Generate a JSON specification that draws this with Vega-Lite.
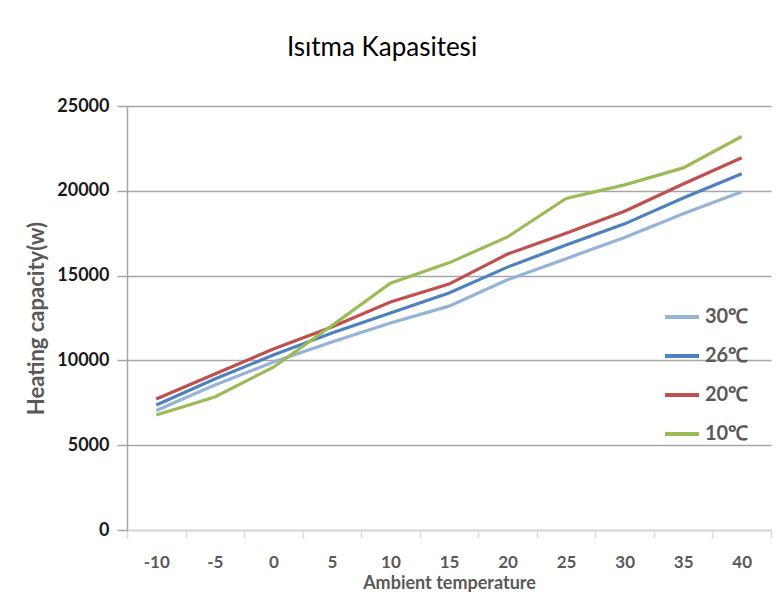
{
  "$schema": "https://vega.github.io/schema/vega-lite/v6.json",
  "width": 644,
  "height": 424,
  "autosize": "none",
  "padding": {"left": 127, "top": 106, "right": 13, "bottom": 71},
  "background": "white",
  "title": {"text": "Isıtma Kapasitesi", "font": "Lato", "fontSize": 26, "fontWeight": "normal", "color": "#000000", "anchor": "middle", "dx": -67, "offset": 36},
  "data": {"values": [
    {"t": -10, "s": "30℃", "v": 7050},
    {"t": -5, "s": "30℃", "v": 8550},
    {"t": 0, "s": "30℃", "v": 9900},
    {"t": 5, "s": "30℃", "v": 11080},
    {"t": 10, "s": "30℃", "v": 12200},
    {"t": 15, "s": "30℃", "v": 13200},
    {"t": 20, "s": "30℃", "v": 14750},
    {"t": 25, "s": "30℃", "v": 16000},
    {"t": 30, "s": "30℃", "v": 17250},
    {"t": 35, "s": "30℃", "v": 18650},
    {"t": 40, "s": "30℃", "v": 19950},
    {"t": -10, "s": "26℃", "v": 7370},
    {"t": -5, "s": "26℃", "v": 8900},
    {"t": 0, "s": "26℃", "v": 10320},
    {"t": 5, "s": "26℃", "v": 11620},
    {"t": 10, "s": "26℃", "v": 12800},
    {"t": 15, "s": "26℃", "v": 13970},
    {"t": 20, "s": "26℃", "v": 15500},
    {"t": 25, "s": "26℃", "v": 16800},
    {"t": 30, "s": "26℃", "v": 18050},
    {"t": 35, "s": "26℃", "v": 19580},
    {"t": 40, "s": "26℃", "v": 21000},
    {"t": -10, "s": "20℃", "v": 7720},
    {"t": -5, "s": "20℃", "v": 9200},
    {"t": 0, "s": "20℃", "v": 10670},
    {"t": 5, "s": "20℃", "v": 11970},
    {"t": 10, "s": "20℃", "v": 13440},
    {"t": 15, "s": "20℃", "v": 14500},
    {"t": 20, "s": "20℃", "v": 16270},
    {"t": 25, "s": "20℃", "v": 17500},
    {"t": 30, "s": "20℃", "v": 18800},
    {"t": 35, "s": "20℃", "v": 20400},
    {"t": 40, "s": "20℃", "v": 21950},
    {"t": -10, "s": "10℃", "v": 6780},
    {"t": -5, "s": "10℃", "v": 7840},
    {"t": 0, "s": "10℃", "v": 9600},
    {"t": 5, "s": "10℃", "v": 12050},
    {"t": 10, "s": "10℃", "v": 14550},
    {"t": 15, "s": "10℃", "v": 15750},
    {"t": 20, "s": "10℃", "v": 17280},
    {"t": 25, "s": "10℃", "v": 19550},
    {"t": 30, "s": "10℃", "v": 20350},
    {"t": 35, "s": "10℃", "v": 21350},
    {"t": 40, "s": "10℃", "v": 23200}
  ]},
  "mark": {"type": "line", "strokeWidth": 3.2},
  "encoding": {
    "x": {
      "field": "t", "type": "ordinal",
      "scale": {"type": "band", "paddingInner": 0, "paddingOuter": 0},
      "axis": {
        "title": "Ambient temperature", "labelAngle": 0, "tickBand": "extent", "grid": false,
        "domainColor": "#d9d9d9", "domainWidth": 1.5, "tickColor": "#d9d9d9", "tickWidth": 1.5, "tickSize": 8,
        "labelFont": "Lato", "labelFontSize": 17, "labelFontWeight": "bold", "labelColor": "#595959", "labelPadding": 16,
        "titleFont": "Lato", "titleFontSize": 18, "titleFontWeight": "bold", "titleColor": "#595959", "titlePadding": 4
      }
    },
    "y": {
      "field": "v", "type": "quantitative",
      "scale": {"domain": [0, 25000]},
      "axis": {
        "title": "Heating capacity(w)", "values": [0, 5000, 10000, 15000, 20000, 25000], "format": "d",
        "grid": true, "gridColor": "#a6a6a6", "gridWidth": 1.5,
        "domainColor": "#a6a6a6", "domainWidth": 1.5, "tickColor": "#a6a6a6", "tickWidth": 1.5, "tickSize": 10,
        "labelFont": "Lato", "labelFontSize": 18, "labelFontWeight": "bold", "labelColor": "#1a1a1a", "labelPadding": 8,
        "titleFont": "Lato", "titleFontSize": 22, "titleFontWeight": "bold", "titleColor": "#595959", "titlePadding": 8
      }
    },
    "color": {
      "field": "s", "type": "nominal",
      "scale": {"domain": ["30℃", "26℃", "20℃", "10℃"], "range": ["#95b3d7", "#4f81bd", "#c0504d", "#9bbb59"]},
      "legend": {
        "title": null, "orient": "none", "legendX": 536, "legendY": 192, "padding": 0,
        "symbolType": "stroke", "symbolSize": 1156, "symbolStrokeWidth": 4, "rowPadding": 10,
        "labelFont": "Lato", "labelFontSize": 20, "labelFontWeight": "bold", "labelColor": "#595959", "labelOffset": 4
      }
    }
  },
  "config": {"view": {"stroke": null}}
}
